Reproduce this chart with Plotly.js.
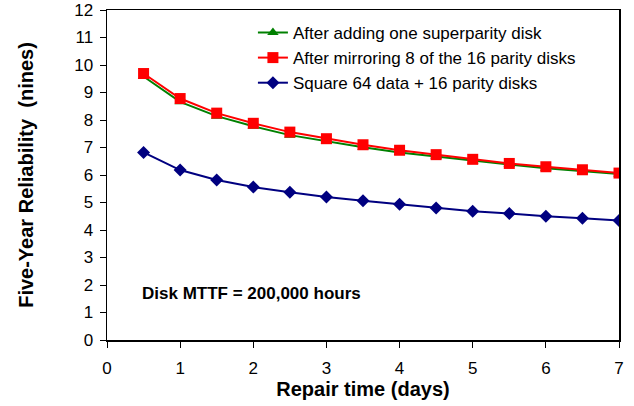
<!DOCTYPE html>
<html>
<head>
<meta charset="utf-8">
<script src="https://cdn.plot.ly/plotly-3.0.1.min.js"></script>
<style>html,body{margin:0;padding:0;background:#fff;}#chart{width:634px;height:406px;}</style>
</head>
<body>
<div id="chart"></div>
<script>
var repairDays = [0.5, 1, 1.5, 2, 2.5, 3, 3.5, 4, 4.5, 5, 5.5, 6, 6.5, 7];
var superparity = [9.58, 8.66, 8.14, 7.77, 7.45, 7.22, 7.01, 6.82, 6.67, 6.51, 6.38, 6.25, 6.15, 6.04];
var mirroring = [9.69, 8.78, 8.25, 7.88, 7.56, 7.32, 7.10, 6.90, 6.74, 6.57, 6.42, 6.30, 6.19, 6.07];
var square = [6.82, 6.18, 5.82, 5.56, 5.37, 5.20, 5.06, 4.94, 4.80, 4.68, 4.60, 4.50, 4.43, 4.35];
var seriesNames = ["After adding one superparity disk", "After mirroring 8 of the 16 parity disks", "Square 64 data + 16 parity disks"];
var xTicks = [0, 1, 2, 3, 4, 5, 6, 7];
var yTicks = [0, 1, 2, 3, 4, 5, 6, 7, 8, 9, 10, 11, 12];

var font = "Liberation Sans, Arial, sans-serif";
var traces = [
  {x: repairDays, y: superparity, name: seriesNames[0], mode: "lines+markers",
   line: {color: "#008000", width: 2}, marker: {symbol: "triangle-up", size: 10, color: "#008000"}},
  {x: repairDays, y: mirroring, name: seriesNames[1], mode: "lines+markers",
   line: {color: "#ff0000", width: 2}, marker: {symbol: "square", size: 11, color: "#ff0000"}},
  {x: repairDays, y: square, name: seriesNames[2], mode: "lines+markers",
   line: {color: "#000080", width: 2}, marker: {symbol: "diamond", size: 10, color: "#000080"}}
];
var layout = {
  width: 634, height: 406,
  margin: {l: 107, r: 15, t: 10, b: 66},
  paper_bgcolor: "#fff", plot_bgcolor: "#fff",
  font: {family: font, size: 17, color: "#000"},
  showlegend: true,
  legend: {x: 0.285, y: 0.985, xanchor: "left", yanchor: "top", bgcolor: "rgba(0,0,0,0)",
           font: {size: 17}, tracegroupgap: 0, itemwidth: 30},
  xaxis: {range: [0, 7], tickvals: xTicks, ticks: "outside", ticklen: 6, tickcolor: "#000",
          tickfont: {size: 17}, ticklabelstandoff: 6,
          showline: true, linecolor: "#000", linewidth: 1.5, mirror: true, showgrid: false, zeroline: false,
          title: {text: "<b>Repair time (days)</b>", font: {size: 20}, standoff: 1}},
  yaxis: {range: [0, 12], tickvals: yTicks, ticks: "outside", ticklen: 6, tickcolor: "#000",
          tickfont: {size: 17}, ticklabelstandoff: 3,
          showline: true, linecolor: "#000", linewidth: 1.5, mirror: true, showgrid: false, zeroline: false,
          title: {text: "<b>Five-Year Reliability  (nines)</b>", font: {size: 20}, standoff: 35}},
  annotations: [{xref: "paper", yref: "paper", x: (140 - 107) / 512, y: (339 - 293) / 329, xanchor: "left", yanchor: "middle",
                 text: "<b>Disk MTTF = 200,000 hours</b>", showarrow: false, font: {size: 17}}]
};
Plotly.newPlot("chart", traces, layout, {displayModeBar: false, staticPlot: true});
</script>
</body>
</html>
